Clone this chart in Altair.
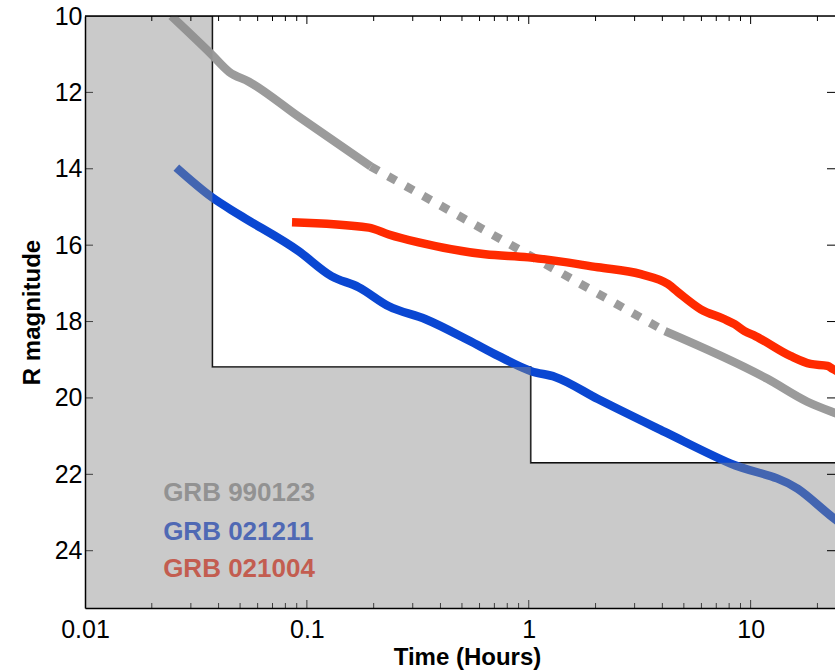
import altair as alt
import pandas as pd

FONT = "Liberation Sans"

# ---- data ----
# GRB 990123 (gray): early solid part, dotted gap, late solid part
g1_t = [0.0245, 0.0374, 0.0446, 0.0548, 0.092, 0.194]
g1_m = [10.0, 11.02, 11.46, 11.72, 12.64, 13.94]
gd_t = [0.194, 4.11]
gd_m = [13.94, 18.25]
g2_t = [4.11, 11.9, 18.0, 23.4, 27.0]
g2_m = [18.25, 19.50, 20.10, 20.37, 20.50]

# GRB 021211 (blue)
b_t = [0.0258, 0.0374, 0.0494, 0.092, 0.129, 0.171, 0.234, 0.343,
       0.535, 0.729, 1.026, 1.315, 2.05, 4.10, 8.13, 16.3, 22.9, 27.0]
b_m = [13.97, 14.75, 15.20, 16.16, 16.81, 17.10, 17.60, 17.94,
       18.49, 18.90, 19.30, 19.45, 20.03, 20.89, 21.72, 22.38, 23.08, 23.40]

# GRB 021004 (red)
r_t = [0.0857, 0.190, 0.234, 0.319, 0.637, 0.995, 2.05, 3.20, 4.24, 4.70,
       5.96, 7.64, 8.47, 9.39, 10.5, 15.1, 18.6, 22.2, 23.4, 27.0]
r_m = [15.40, 15.54, 15.72, 15.93, 16.24, 16.32, 16.58, 16.76, 17.02, 17.23,
       17.68, 17.94, 18.07, 18.25, 18.38, 18.90, 19.11, 19.16, 19.24, 19.40]

# stepped limit region
lim_t = [0.01, 0.0375, 1.02, 24.0]
lim_m = [10.0, 19.19, 21.70, 21.70]
MAG_MAX = 25.5

# legend texts
leg_names = ["GRB 990123", "GRB 021211", "GRB 021004"]
leg_colors = ["#9a9a9a", "#1f4fd8", "#f23a22"]
leg_t = [0.0225, 0.0225, 0.0225]
leg_m = [22.5, 23.5, 24.49]

# axis ticks
x_major = [0.1, 1, 10]
x_minor = [0.02, 0.03, 0.04, 0.05, 0.06, 0.07, 0.08, 0.09,
           0.2, 0.3, 0.4, 0.5, 0.6, 0.7, 0.8, 0.9,
           2, 3, 4, 5, 6, 7, 8, 9, 20]
y_major = [12, 14, 16, 18, 20, 22, 24]

W, H = 750, 592

xs = alt.Scale(type="log", domain=[0.01, 24], nice=False)
ys = alt.Scale(domain=[10, MAG_MAX], reverse=True, nice=False, zero=False)

GRAY = "#9b9b9b"
BLUE = "#0a47d2"
RED = "#ff2a00"


def line_layer(t, m, color, dash=None):
    df = pd.DataFrame({"t": t, "m": m, "i": list(range(len(t)))})
    kw = dict(color=color, strokeWidth=8.5, clip=True, strokeCap="butt",
              strokeJoin="round")
    if dash:
        kw["strokeDash"] = dash
    else:
        kw["interpolate"] = "monotone"
    return alt.Chart(df).mark_line(**kw).encode(
        x=alt.X("t:Q", scale=xs), y=alt.Y("m:Q", scale=ys), order="i:Q")


x_ax = alt.Axis(values=[0.01, 0.1, 1, 10], format="~g", title="Time (Hours)",
                tickSize=0, labelPadding=9, labelFlush=False, grid=False,
                domainColor="black", domainWidth=1.5, labelFontSize=25,
                labelColor="black", labelFont=FONT, titleFont=FONT,
                titleFontSize=24, titleFontWeight="bold", titleColor="black",
                titlePadding=3, titleX=382, zindex=1)
y_ax = alt.Axis(values=[10, 12, 14, 16, 18, 20, 22, 24], title="R magnitude",
                tickSize=0, labelPadding=3, labelFlush=False, grid=False,
                domainColor="black", domainWidth=1.5, labelFontSize=25,
                labelColor="black", labelFont=FONT, titleFont=FONT,
                titleFontSize=24, titleFontWeight="bold", titleColor="black",
                titlePadding=10, zindex=1)

# base layer carrying the axes: the limit region outline data
lim_df = pd.DataFrame({"t": lim_t, "m": lim_m, "m2": [MAG_MAX] * 4})

base_axes = alt.Chart(lim_df).mark_line(
    interpolate="step-after", color="black", strokeWidth=1.6, clip=True
).encode(x=alt.X("t:Q", scale=xs, axis=x_ax),
         y=alt.Y("m:Q", scale=ys, axis=y_ax))

overlay = alt.Chart(lim_df).mark_area(
    interpolate="step-after", color="#8a8a8a", opacity=0.45, clip=True
).encode(x=alt.X("t:Q", scale=xs), y=alt.Y("m:Q", scale=ys), y2="m2:Q")

# inward ticks
xmaj = pd.DataFrame({"t": x_major})
xmin = pd.DataFrame({"t": x_minor})
ymaj = pd.DataFrame({"m": y_major})


def xticks(df, y0, y1):
    return alt.Chart(df).mark_rule(color="black", strokeWidth=1).encode(
        x=alt.X("t:Q", scale=xs), y=alt.value(y0), y2=alt.value(y1))


def yticks(df, x0, x1):
    return alt.Chart(df).mark_rule(color="black", strokeWidth=1).encode(
        y=alt.Y("m:Q", scale=ys), x=alt.value(x0), x2=alt.value(x1))


bottom_ticks = xticks(xmaj, H, H - 8) + xticks(xmin, H, H - 5)
left_ticks = yticks(ymaj, 0, 8)
top_ticks = xticks(xmaj, 0, 8) + xticks(xmin, 0, 5)
right_ticks = yticks(ymaj, W, W - 8)

top_border = alt.Chart(xmaj.head(1)).mark_rule(color="black", strokeWidth=1.6).encode(
    x=alt.value(0), x2=alt.value(W), y=alt.value(0))

leg_df = pd.DataFrame({"name": leg_names, "col": leg_colors, "t": leg_t, "m": leg_m})
legend = alt.Chart(leg_df).mark_text(
    align="left", baseline="middle", fontSize=26, font=FONT, fontWeight="bold"
).encode(x=alt.X("t:Q", scale=xs), y=alt.Y("m:Q", scale=ys), text="name:N",
         color=alt.Color("col:N", scale=None))

chart = alt.layer(
    base_axes,
    bottom_ticks, left_ticks,
    line_layer(g1_t, g1_m, GRAY),
    line_layer(gd_t, gd_m, GRAY, dash=[9, 11]),
    line_layer(g2_t, g2_m, GRAY),
    line_layer(b_t, b_m, BLUE),
    line_layer(r_t, r_m, RED),
    legend,
    overlay,
    top_ticks, right_ticks, top_border,
).properties(
    width=W, height=H,
    autosize=alt.AutoSizeParams(type="none"),
    padding={"left": 85, "top": 16, "right": 0, "bottom": 63},
).configure_view(stroke=None).configure(font=FONT)

chart.save("out.html", embed_options={"renderer": "svg", "actions": False})
